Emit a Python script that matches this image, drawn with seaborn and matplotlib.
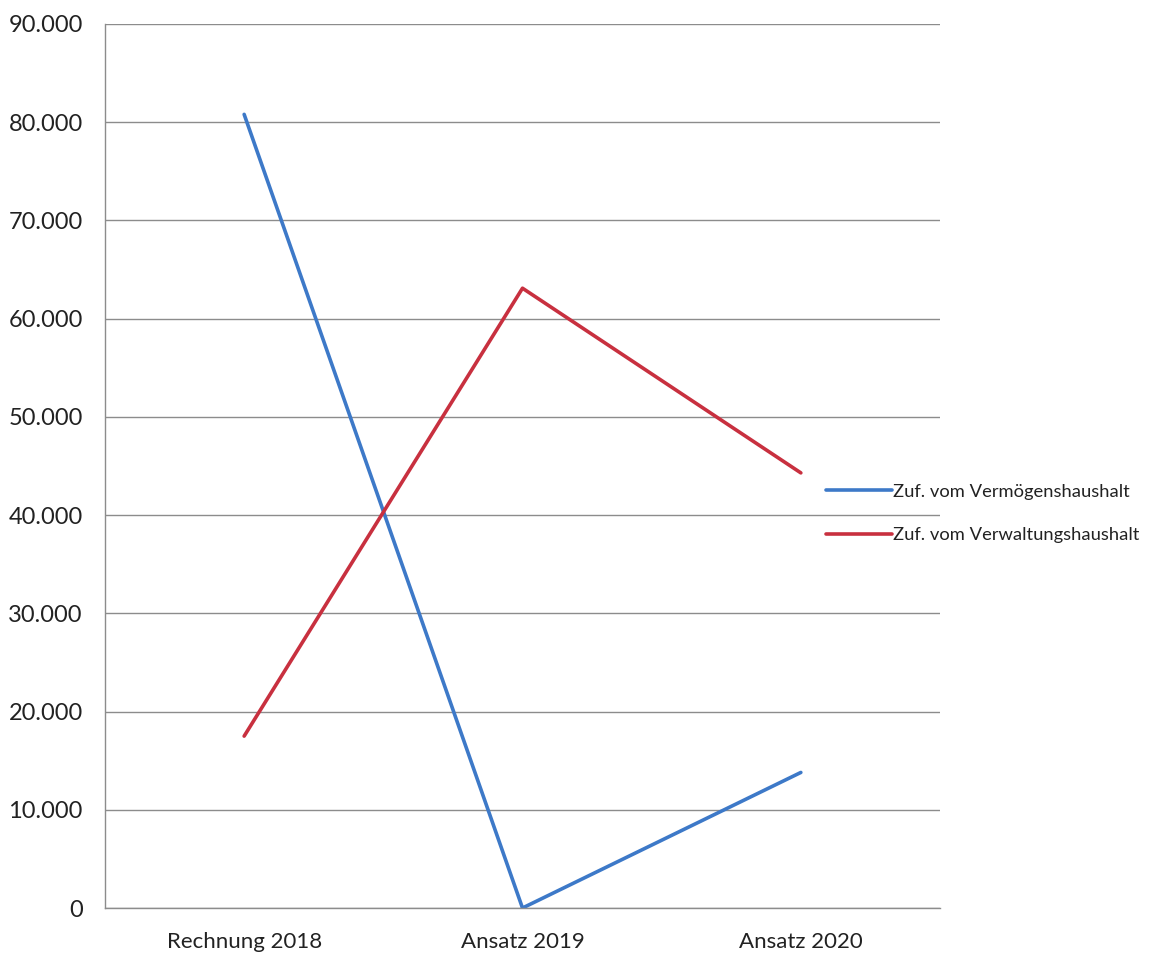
import pandas as pd
import matplotlib.pyplot as plt
import matplotlib.ticker as mticker
import seaborn as sns

# --- DATA ---
categories = ['Rechnung 2018', 'Ansatz 2019', 'Ansatz 2020']
vermoegen = [80800, 0, 13800]
verwaltung = [17500, 63100, 44300]
series_names = ['Zuf. vom Vermögenshaushalt', 'Zuf. vom Verwaltungshaushalt']

df = pd.DataFrame({
    'kategorie': categories * 2,
    'wert': vermoegen + verwaltung,
    'reihe': [series_names[0]] * 3 + [series_names[1]] * 3,
})
df['pos'] = df['kategorie'].map({c: i for i, c in enumerate(categories)})

sns.set_style('white')
plt.rcParams['font.family'] = ['Lato', 'DejaVu Sans']

fig = plt.figure(figsize=(11.51, 9.56), dpi=100)
ax = fig.add_axes([0.0912, 0.0502, 0.7255, 0.9247])

sns.lineplot(data=df, x='pos', y='wert', hue='reihe', ax=ax,
             palette=['#3D79C8', '#C8303F'], linewidth=2.6, legend=False)

ax.set_xlim(-0.5, 2.5)
ax.set_ylim(0, 90000)
ax.set_yticks(range(0, 90001, 10000))
ax.yaxis.set_major_formatter(mticker.FuncFormatter(
    lambda v, p: f'{int(v):,}'.replace(',', '.')))
ax.set_xticks(range(len(categories)))
ax.set_xticklabels(categories)
ax.set_xticks([-0.5, 0.5, 1.5, 2.5], minor=True)
ax.tick_params(axis='x', which='major', length=0, pad=17, labelsize=16,
               labelcolor='#222222')
ax.tick_params(axis='x', which='minor', length=6, color='#8c8c8c', width=1)
ax.tick_params(axis='y', length=6, color='#8c8c8c', width=1, labelsize=17,
               pad=10, labelcolor='#222222')
ax.set_xlabel('')
ax.set_ylabel('')

ax.grid(axis='y', color='#8c8c8c', linewidth=1)
for s in ['top', 'right']:
    ax.spines[s].set_visible(False)
for s in ['left', 'bottom']:
    ax.spines[s].set_color('#8c8c8c')
    ax.spines[s].set_linewidth(1)

handles = [plt.Line2D([], [], color='#3D79C8', linewidth=2.6),
           plt.Line2D([], [], color='#C8303F', linewidth=2.6)]
fig.legend(handles, series_names, loc='center left',
           bbox_to_anchor=(0.703, 0.463), frameon=False, fontsize=13.2,
           handlelength=3.6, handletextpad=0.1, labelspacing=1.5,
           labelcolor='#222222')

fig.savefig('out.png', dpi=100)
